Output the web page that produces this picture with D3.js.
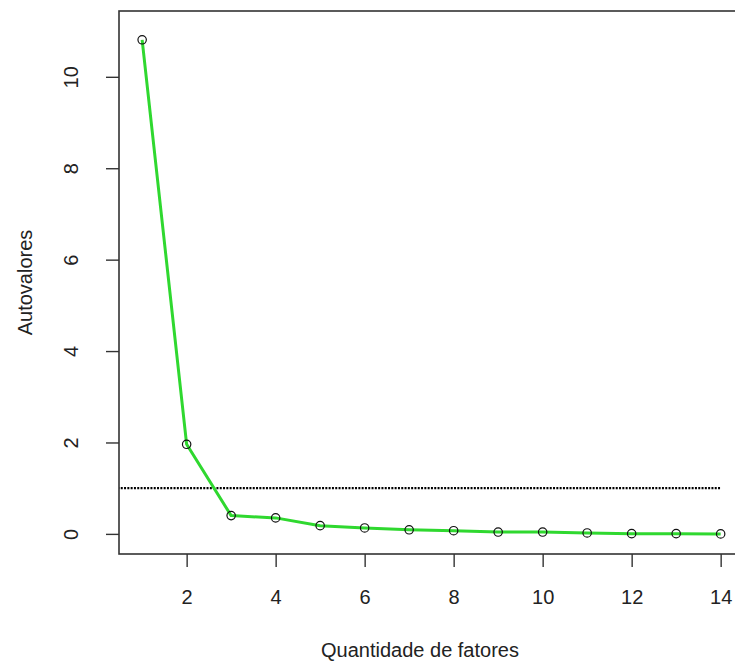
<!DOCTYPE html>
<html>
<head>
<meta charset="utf-8">
<script src="https://cdn.jsdelivr.net/npm/d3@7"></script>
<style>
  html, body { margin: 0; padding: 0; background: #fff; }
  svg { display: block; font-family: "Liberation Sans", Arial, sans-serif; }
</style>
</head>
<body>
<svg id="chart" width="735" height="666"></svg>
<script>
// ---- data ----
const factors = [1, 2, 3, 4, 5, 6, 7, 8, 9, 10, 11, 12, 13, 14];
const eigenvalues = [10.81, 1.96, 0.40, 0.35, 0.18, 0.13, 0.09, 0.07, 0.04, 0.04, 0.02, 0.005, 0.005, 0.0];
const xTicks = [2, 4, 6, 8, 10, 12, 14];
const yTicks = [0, 2, 4, 6, 8, 10];
const kaiserLine = 1;
const xTitle = "Quantidade de fatores";
const yTitle = "Autovalores";

// ---- layout ----
const W = 735, H = 666;
const mLeft = 119, mRight = 743.8, mTop = 11, mBottom = 554;

const svg = d3.select("#chart");
svg.append("rect").attr("width", W).attr("height", H).attr("fill", "#fff");

const x = d3.scaleLinear().domain([0.48, 14.52]).range([mLeft, mRight]);
const y = d3.scaleLinear().domain([-0.44, 11.44]).range([mBottom, mTop]);

svg.append("clipPath").attr("id", "plotclip")
  .append("rect").attr("x", mLeft).attr("y", mTop)
  .attr("width", mRight - mLeft).attr("height", mBottom - mTop);

const plot = svg.append("g").attr("clip-path", "url(#plotclip)");

// dotted reference line at eigenvalue = 1
plot.append("line")
  .attr("x1", x(0)).attr("x2", x(14))
  .attr("y1", y(kaiserLine)).attr("y2", y(kaiserLine))
  .attr("stroke", "#000").attr("stroke-width", 2.2)
  .attr("stroke-dasharray", "2,1.3");

// green line
const data = factors.map((f, i) => ({ f, v: eigenvalues[i] }));
plot.append("path")
  .datum(data)
  .attr("fill", "none")
  .attr("stroke", "#2fd82f")
  .attr("stroke-width", 3)
  .attr("stroke-linejoin", "round")
  .attr("d", d3.line().x(d => x(d.f)).y(d => y(d.v)));

// points
plot.selectAll("circle.pt").data(data).enter().append("circle")
  .attr("class", "pt")
  .attr("cx", d => x(d.f)).attr("cy", d => y(d.v))
  .attr("r", 4.2)
  .attr("fill", "none")
  .attr("stroke", "#111").attr("stroke-width", 1.2);

// box
svg.append("rect")
  .attr("x", mLeft).attr("y", mTop)
  .attr("width", mRight - mLeft).attr("height", mBottom - mTop)
  .attr("fill", "none").attr("stroke", "#333").attr("stroke-width", 1.6);

// x axis
const xAxis = svg.append("g")
  .attr("transform", `translate(0,${mBottom})`)
  .call(d3.axisBottom(x).tickValues(xTicks).tickSize(13).tickSizeOuter(0).tickFormat(d3.format("d")));
xAxis.select(".domain").remove();
xAxis.selectAll(".tick line").attr("stroke", "#333").attr("stroke-width", 1.4);
xAxis.selectAll(".tick text")
  .attr("y", 50).attr("dy", 0)
  .attr("font-size", 20).attr("fill", "#222")
  .attr("font-family", "Liberation Sans, Arial, sans-serif");

// y axis
const yAxis = svg.append("g")
  .attr("transform", `translate(${mLeft},0)`)
  .call(d3.axisLeft(y).tickValues(yTicks).tickSize(13).tickSizeOuter(0).tickFormat(d3.format("d")));
yAxis.select(".domain").remove();
yAxis.selectAll(".tick line").attr("stroke", "#333").attr("stroke-width", 1.4);
yAxis.selectAll(".tick text")
  .attr("transform", "rotate(-90)")
  .attr("x", 0).attr("y", -41).attr("dy", 0)
  .attr("text-anchor", "middle")
  .attr("font-size", 20).attr("fill", "#222")
  .attr("font-family", "Liberation Sans, Arial, sans-serif");

// titles
svg.append("text")
  .attr("x", 420).attr("y", 657)
  .attr("text-anchor", "middle")
  .attr("font-size", 20).attr("fill", "#222")
  .text(xTitle);

svg.append("text")
  .attr("transform", `translate(32,${(mTop + mBottom) / 2}) rotate(-90)`)
  .attr("text-anchor", "middle")
  .attr("font-size", 20).attr("fill", "#222")
  .text(yTitle);
</script>
</body>
</html>
